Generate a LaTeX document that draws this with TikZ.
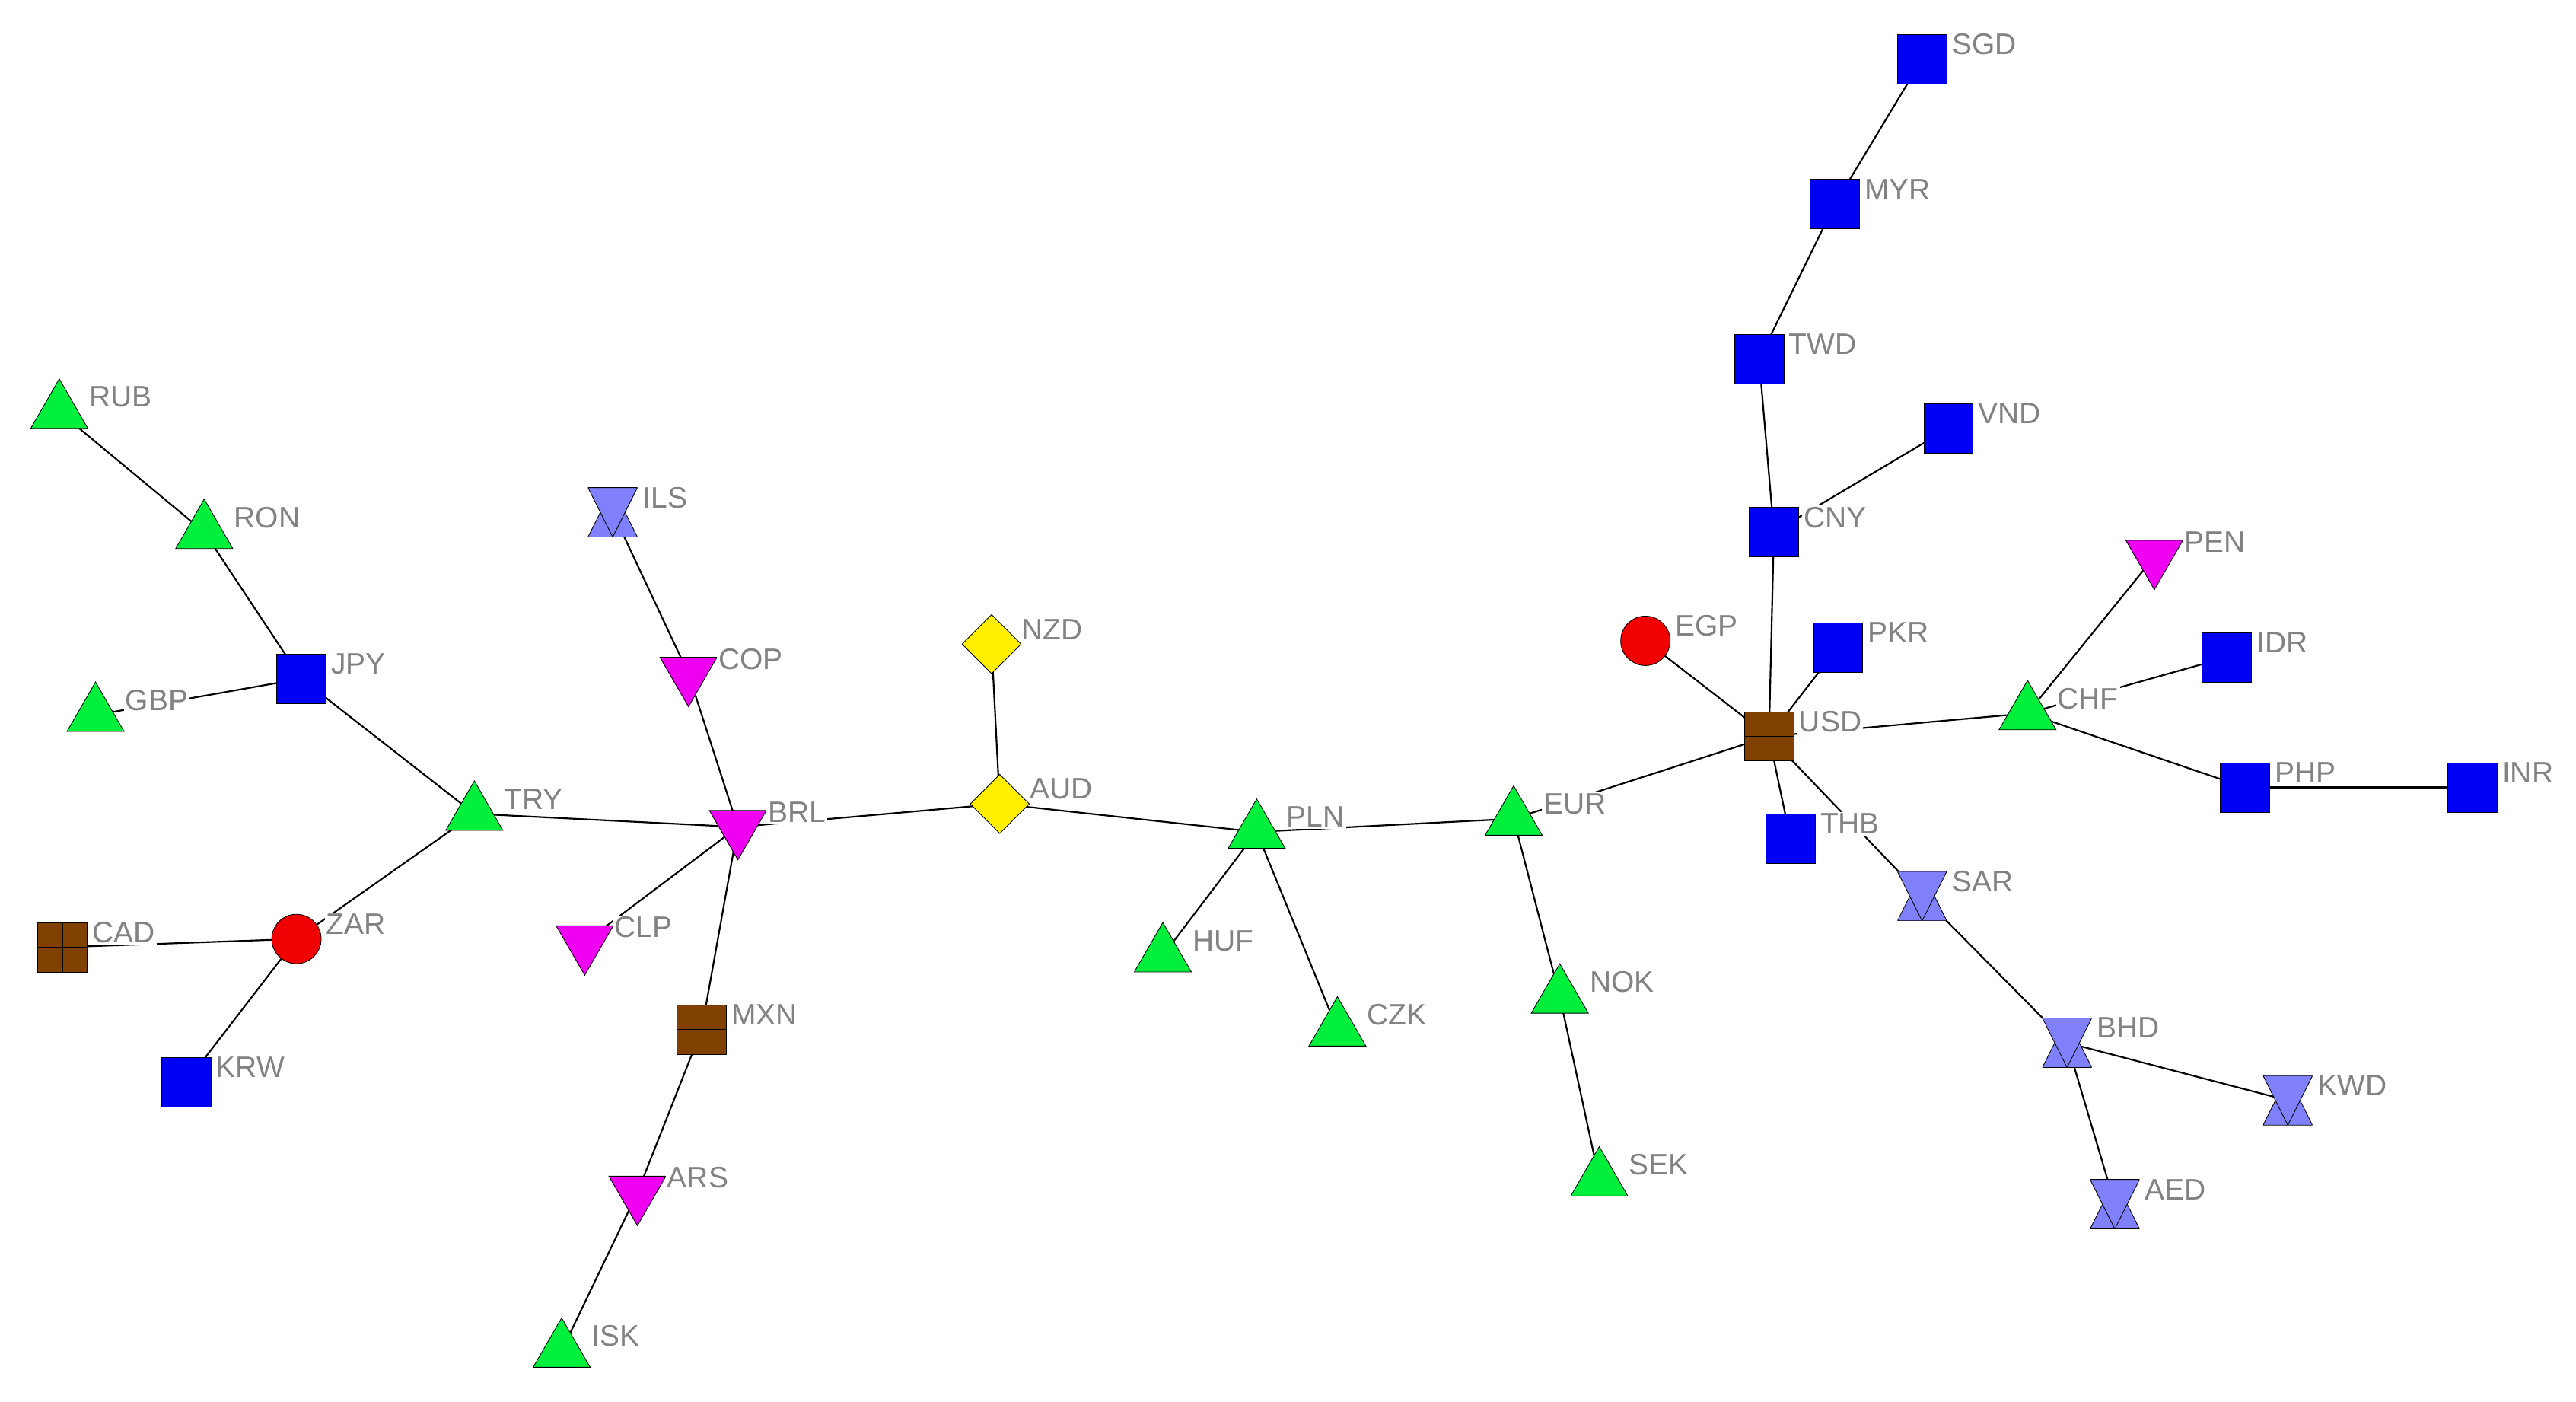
\documentclass[tikz,border=0pt]{standalone}
\usepackage{fontspec}
\setmainfont{Liberation Sans}
\usetikzlibrary{shapes.geometric,backgrounds}
\definecolor{cblue}{RGB}{0,0,245}
\definecolor{cgreen}{RGB}{0,240,60}
\definecolor{cmag}{RGB}{240,0,240}
\definecolor{chg}{RGB}{128,128,250}
\definecolor{cyel}{RGB}{255,240,0}
\definecolor{cred}{RGB}{240,0,0}
\definecolor{cbrown}{RGB}{128,64,0}
\definecolor{cgray}{RGB}{130,130,130}
\tikzset{
 sq/.style={rectangle,draw=black,fill=cblue,minimum size=30pt,inner sep=0pt},
 up/.style={regular polygon,regular polygon sides=3,draw=black,fill=cgreen,minimum size=40pt,inner sep=0pt},
 dn/.style={regular polygon,regular polygon sides=3,shape border rotate=180,draw=black,fill=cmag,minimum size=40pt,inner sep=0pt},
 dia/.style={diamond,draw=black,fill=cyel,minimum size=36pt,inner sep=0pt},
 cir/.style={circle,draw=black,fill=cred,minimum size=30pt,inner sep=0pt},
 brn/.style={rectangle,draw=black,fill=cbrown,minimum size=30pt,inner sep=0pt,
   path picture={\draw (path picture bounding box.north)--(path picture bounding box.south)
     (path picture bounding box.west)--(path picture bounding box.east);}},
 hg/.style={rectangle,minimum size=30pt,inner sep=0pt,
   path picture={
     \draw[fill=chg] (path picture bounding box.south west)--(path picture bounding box.south east)--(path picture bounding box.north)--cycle;
     \draw[fill=chg] (path picture bounding box.north west)--(path picture bounding box.north east)--(path picture bounding box.south)--cycle;}},
 lbl/.style={anchor=west,text=cgray,fill=white,inner sep=1pt,font=\fontsize{18}{20}\selectfont},
 edge/.style={draw=black,line width=1pt}
}
\newcommand\cur[4]{\node[#4] (#1) at (#2,-#3) {};\node[lbl] (#1-l) at (#2+17,-#3+9) {#1};}
\begin{document}
\begin{tikzpicture}[x=1pt,y=1pt]
\useasboundingbox (0,0) rectangle (1564,-851);
\cur{SGD}{1167}{36}{sq}
\cur{MYR}{1114}{124}{sq}
\cur{TWD}{1068}{218}{sq}
\cur{VND}{1183}{260}{sq}
\cur{CNY}{1077}{323}{sq}
\cur{PKR}{1116}{393}{sq}
\cur{EGP}{999}{389}{cir}
\cur{USD}{1074}{447}{brn}
\cur{THB}{1087}{509}{sq}
\cur{CHF}{1231}{433}{up}
\cur{PEN}{1308}{338}{dn}
\cur{IDR}{1352}{399}{sq}
\cur{PHP}{1363}{478}{sq}
\cur{INR}{1501}{478}{sq}
\cur{SAR}{1167}{544}{hg}
\cur{BHD}{1255}{633}{hg}
\cur{KWD}{1389}{668}{hg}
\cur{AED}{1284}{731}{hg}
\cur{EUR}{919}{497}{up}
\cur{NOK}{947}{605}{up}
\cur{SEK}{971}{716}{up}
\cur{PLN}{763}{505}{up}
\cur{HUF}{706}{580}{up}
\cur{CZK}{812}{625}{up}
\cur{AUD}{607}{488}{dia}
\cur{NZD}{602}{391}{dia}
\cur{BRL}{448}{502}{dn}
\cur{COP}{418}{409}{dn}
\cur{ILS}{372}{311}{hg}
\cur{CLP}{355}{572}{dn}
\cur{MXN}{426}{625}{brn}
\cur{ARS}{387}{724}{dn}
\cur{ISK}{341}{820}{up}
\cur{TRY}{288}{494}{up}
\cur{JPY}{183}{412}{sq}
\cur{RON}{124}{323}{up}
\cur{RUB}{36}{250}{up}
\cur{GBP}{58}{434}{up}
\cur{ZAR}{180}{570}{cir}
\cur{CAD}{38}{575}{brn}
\cur{KRW}{113}{657}{sq}
\begin{scope}[on background layer]
\foreach \a/\b in {SGD/MYR,MYR/TWD,TWD/CNY,CNY/VND,CNY/USD,PKR/USD,EGP/USD,USD/CHF,USD/THB,USD/SAR,USD/EUR,CHF/PEN,CHF/IDR,CHF/PHP,PHP/INR,SAR/BHD,BHD/KWD,BHD/AED,EUR/PLN,EUR/NOK,NOK/SEK,PLN/AUD,PLN/HUF,PLN/CZK,AUD/NZD,AUD/BRL,BRL/COP,COP/ILS,BRL/CLP,BRL/MXN,MXN/ARS,ARS/ISK,BRL/TRY,TRY/JPY,JPY/RON,RON/RUB,JPY/GBP,TRY/ZAR,ZAR/CAD,ZAR/KRW}
  \draw[edge] (\a.center) -- (\b.center);
\end{scope}
\end{tikzpicture}
\end{document}
